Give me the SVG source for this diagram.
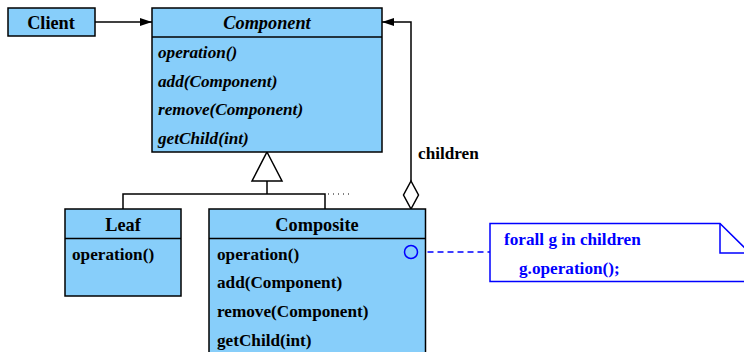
<svg xmlns="http://www.w3.org/2000/svg" width="744" height="352" viewBox="0 0 744 352">
<style>
.box{fill:#87CEFA;stroke:#000;stroke-width:1.5}
.ln{fill:none;stroke:#000;stroke-width:1.5}
text{font-family:"Liberation Serif","Times New Roman",serif;font-weight:bold;fill:#000}
.h{font-size:18.3px;text-anchor:middle}
.m{font-size:17.2px}
.i{font-style:italic}
.blue{fill:#0000FF}
</style>
<defs>
<marker id="arr" viewBox="0 0 12 8" refX="12" refY="4" markerWidth="12" markerHeight="8" markerUnits="userSpaceOnUse" orient="auto">
<path d="M0,0 L12,4 L0,8 Z" fill="#000"/>
</marker>
</defs>
<rect width="744" height="352" fill="#fff"/>
<g id="connectors">
<line class="ln" x1="95" y1="22" x2="152" y2="22" marker-end="url(#arr)"/>
<polyline class="ln" points="411,181 411,22 382,22" marker-end="url(#arr)"/>
<polygon points="411,181 418.5,195 411,209 403.5,195" fill="#fff" stroke="#000" stroke-width="1.5"/>
<polygon points="267,152 282,181 252,181" fill="#fff" stroke="#000" stroke-width="1.5"/>
<polyline class="ln" points="267,181 267,194"/>
<polyline class="ln" points="123,209 123,194 325,194 325,209"/>
<line x1="328" y1="194" x2="352" y2="194" stroke="#000" stroke-width="1" stroke-dasharray="1,4"/>
<line x1="417.5" y1="252" x2="490" y2="252" stroke="#0000FF" stroke-width="1.5" stroke-dasharray="6,4"/>
<text class="m" x="418" y="159">children</text>
</g>
<g id="client">
<rect class="box" x="8" y="8" width="87" height="28"/>
<text class="h" x="51" y="29">Client</text>
</g>
<g id="component">
<rect class="box" x="152" y="8" width="230" height="144"/>
<line class="ln" x1="152" y1="37" x2="382" y2="37"/>
<text class="h i" x="267" y="29">Component</text>
<text class="m i" x="158" y="58">operation()</text>
<text class="m i" x="158" y="87">add(Component)</text>
<text class="m i" x="158" y="115">remove(Component)</text>
<text class="m i" x="158" y="144">getChild(int)</text>
</g>
<g id="leaf">
<rect class="box" x="65" y="209" width="116" height="87"/>
<line class="ln" x1="65" y1="238.5" x2="181" y2="238.5"/>
<text class="h" x="123" y="231">Leaf</text>
<text class="m" x="72" y="260">operation()</text>
</g>
<g id="composite">
<rect class="box" x="209" y="209" width="216.5" height="160"/>
<line class="ln" x1="209" y1="238.5" x2="425.5" y2="238.5"/>
<text class="h" x="317" y="231">Composite</text>
<text class="m" x="217" y="260">operation()</text>
<text class="m" x="217" y="288">add(Component)</text>
<text class="m" x="217" y="317">remove(Component)</text>
<text class="m" x="217" y="345.5">getChild(int)</text>
<circle cx="411" cy="252" r="6.5" fill="none" stroke="#0000FF" stroke-width="1.5"/>
</g>
<g id="note">
<polygon points="490,223.5 720,223.5 750,253 750,281.5 490,281.5" fill="#fff" stroke="#0000FF" stroke-width="1.5"/>
<polyline points="720,223.5 720,253 750,253" fill="none" stroke="#0000FF" stroke-width="1.5"/>
<text class="m blue" x="504" y="245">forall g in children</text>
<text class="m blue" x="519" y="274">g.operation();</text>
</g>
</svg>
